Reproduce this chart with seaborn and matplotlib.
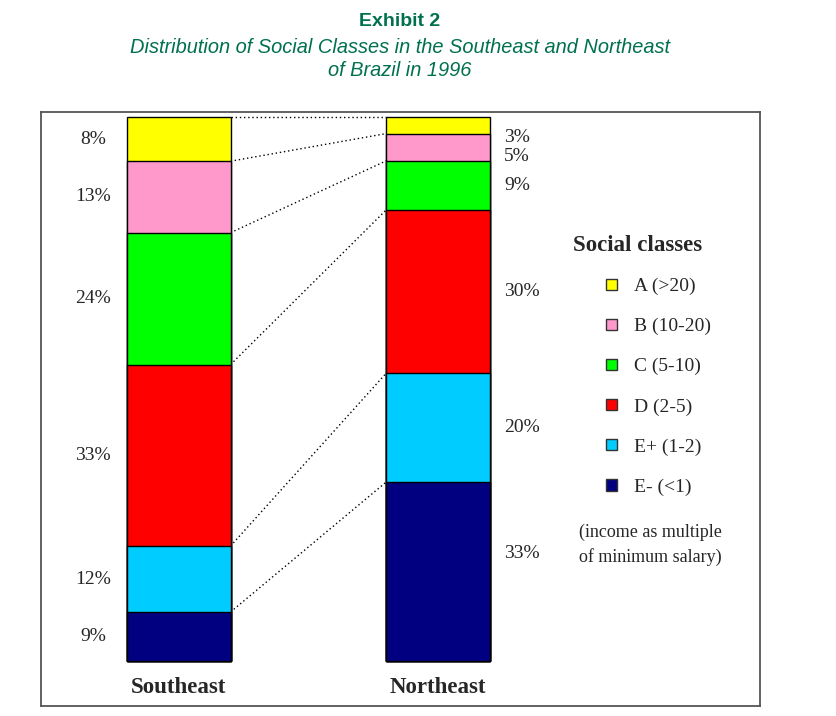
import numpy as np
import pandas as pd
import matplotlib.pyplot as plt
import seaborn as sns
from matplotlib.patches import Patch

# -----------------------------------------
# Data (read from the exhibit)
# -----------------------------------------
regions = ["Southeast", "Northeast"]
classes = ["A (>20)", "B (10-20)", "C (5-10)", "D (2-5)", "E+ (1-2)", "E- (<1)"]
southeast = [8, 13, 24, 33, 12, 9]
northeast = [3, 5, 9, 30, 20, 33]
colors = ["#FFFF00", "#FF99CC", "#00FF00", "#FF0000", "#00CCFF", "#000080"]

# small vertical nudges (in %) for the crowded northeast labels
ne_nudge = [-2.2, -1.7, 0, 0, 0, 3.3]

title_green = "#00704F"

# -----------------------------------------
# Build stacked table (bottom class first), scaled so each bar fills 100
# -----------------------------------------
rows = []
for reg, vals in zip(regions, [southeast, northeast]):
    vals = np.array(vals[::-1], dtype=float)
    share = vals / vals.sum() * 100
    top = np.cumsum(share)
    for cls, v, s, t in zip(classes[::-1], vals, share, top):
        rows.append({"region": reg, "cls": cls, "value": v, "share": s,
                     "top": t, "mid": t - s / 2})
df = pd.DataFrame(rows)

sns.set_style("white")
plt.rcParams["font.family"] = ["Liberation Serif", "DejaVu Serif"]

fig = plt.figure(figsize=(8.37, 7.16), dpi=100)
ax = fig.add_axes([41 / 837, 1 - 706 / 716, 719 / 837, 594 / 716])

# draw cumulative bars from the top class down so each layer covers the next
for cls, col in zip(classes, colors):
    sub = df[df["cls"] == cls]
    sns.barplot(data=sub, x="region", y="top", order=regions, color=col,
                saturation=1, width=0.4, edgecolor="black", linewidth=1,
                ax=ax, zorder=3)

# dotted connectors between the class boundaries
se = df[df["region"] == "Southeast"].set_index("cls")
ne = df[df["region"] == "Northeast"].set_index("cls")
for cls in classes:
    ax.plot([0.2, 0.8], [se.loc[cls, "top"], ne.loc[cls, "top"]],
            linestyle=(0, (1, 2)), color="black", linewidth=1, zorder=2)

# percentage labels
for cls, nudge in zip(classes, ne_nudge):
    ax.text(-0.33, se.loc[cls, "mid"], f"{se.loc[cls, 'value']:.0f}%",
            ha="center", va="center", fontsize=14)
    ax.text(1 + 0.253, ne.loc[cls, "mid"] + nudge, f"{ne.loc[cls, 'value']:.0f}%",
            ha="left", va="center", fontsize=14)

ax.set_xlim(-0.530, 2.239)
ax.set_ylim(-8.18, 100.96)
ax.set_xlabel("")
ax.set_ylabel("")
ax.set_yticks([])
ax.tick_params(axis="x", length=0, pad=-21, labelsize=16.5)
for lab in ax.get_xticklabels():
    lab.set_fontweight("bold")
for sp in ax.spines.values():
    sp.set_visible(True)
    sp.set_color("#555555")
    sp.set_linewidth(1.3)

# legend
handles = [Patch(facecolor=c, edgecolor="#333333", linewidth=1) for c in colors]
leg = ax.legend(handles, classes, loc="upper left", frameon=False,
                bbox_to_anchor=(606 / 837, 1 - 278 / 716),
                bbox_transform=fig.transFigure, fontsize=14,
                handlelength=0.55, handleheight=0.55, handletextpad=0.9,
                labelspacing=1.17, borderpad=0, borderaxespad=0)
fig.text(638 / 837, 1 - 246 / 716, "Social classes", ha="center", va="center",
         fontsize=16.5, fontweight="bold")
fig.text(650 / 837, 1 - 545 / 716, "(income as multiple\nof minimum salary)",
         ha="center", va="center", fontsize=13, linespacing=1.5)

# titles
fig.text(400 / 837, 1 - 22 / 716, "Exhibit 2", ha="center", va="center",
         fontsize=14, fontweight="bold", color=title_green,
         family=["Liberation Sans", "DejaVu Sans"])
fig.text(400 / 837, 1 - 59 / 716,
         "Distribution of Social Classes in the Southeast and Northeast\nof Brazil in 1996",
         ha="center", va="center", fontsize=14.4, style="italic", color=title_green,
         family=["Liberation Sans", "DejaVu Sans"], linespacing=1.22)

fig.savefig("out.png", dpi=100)
